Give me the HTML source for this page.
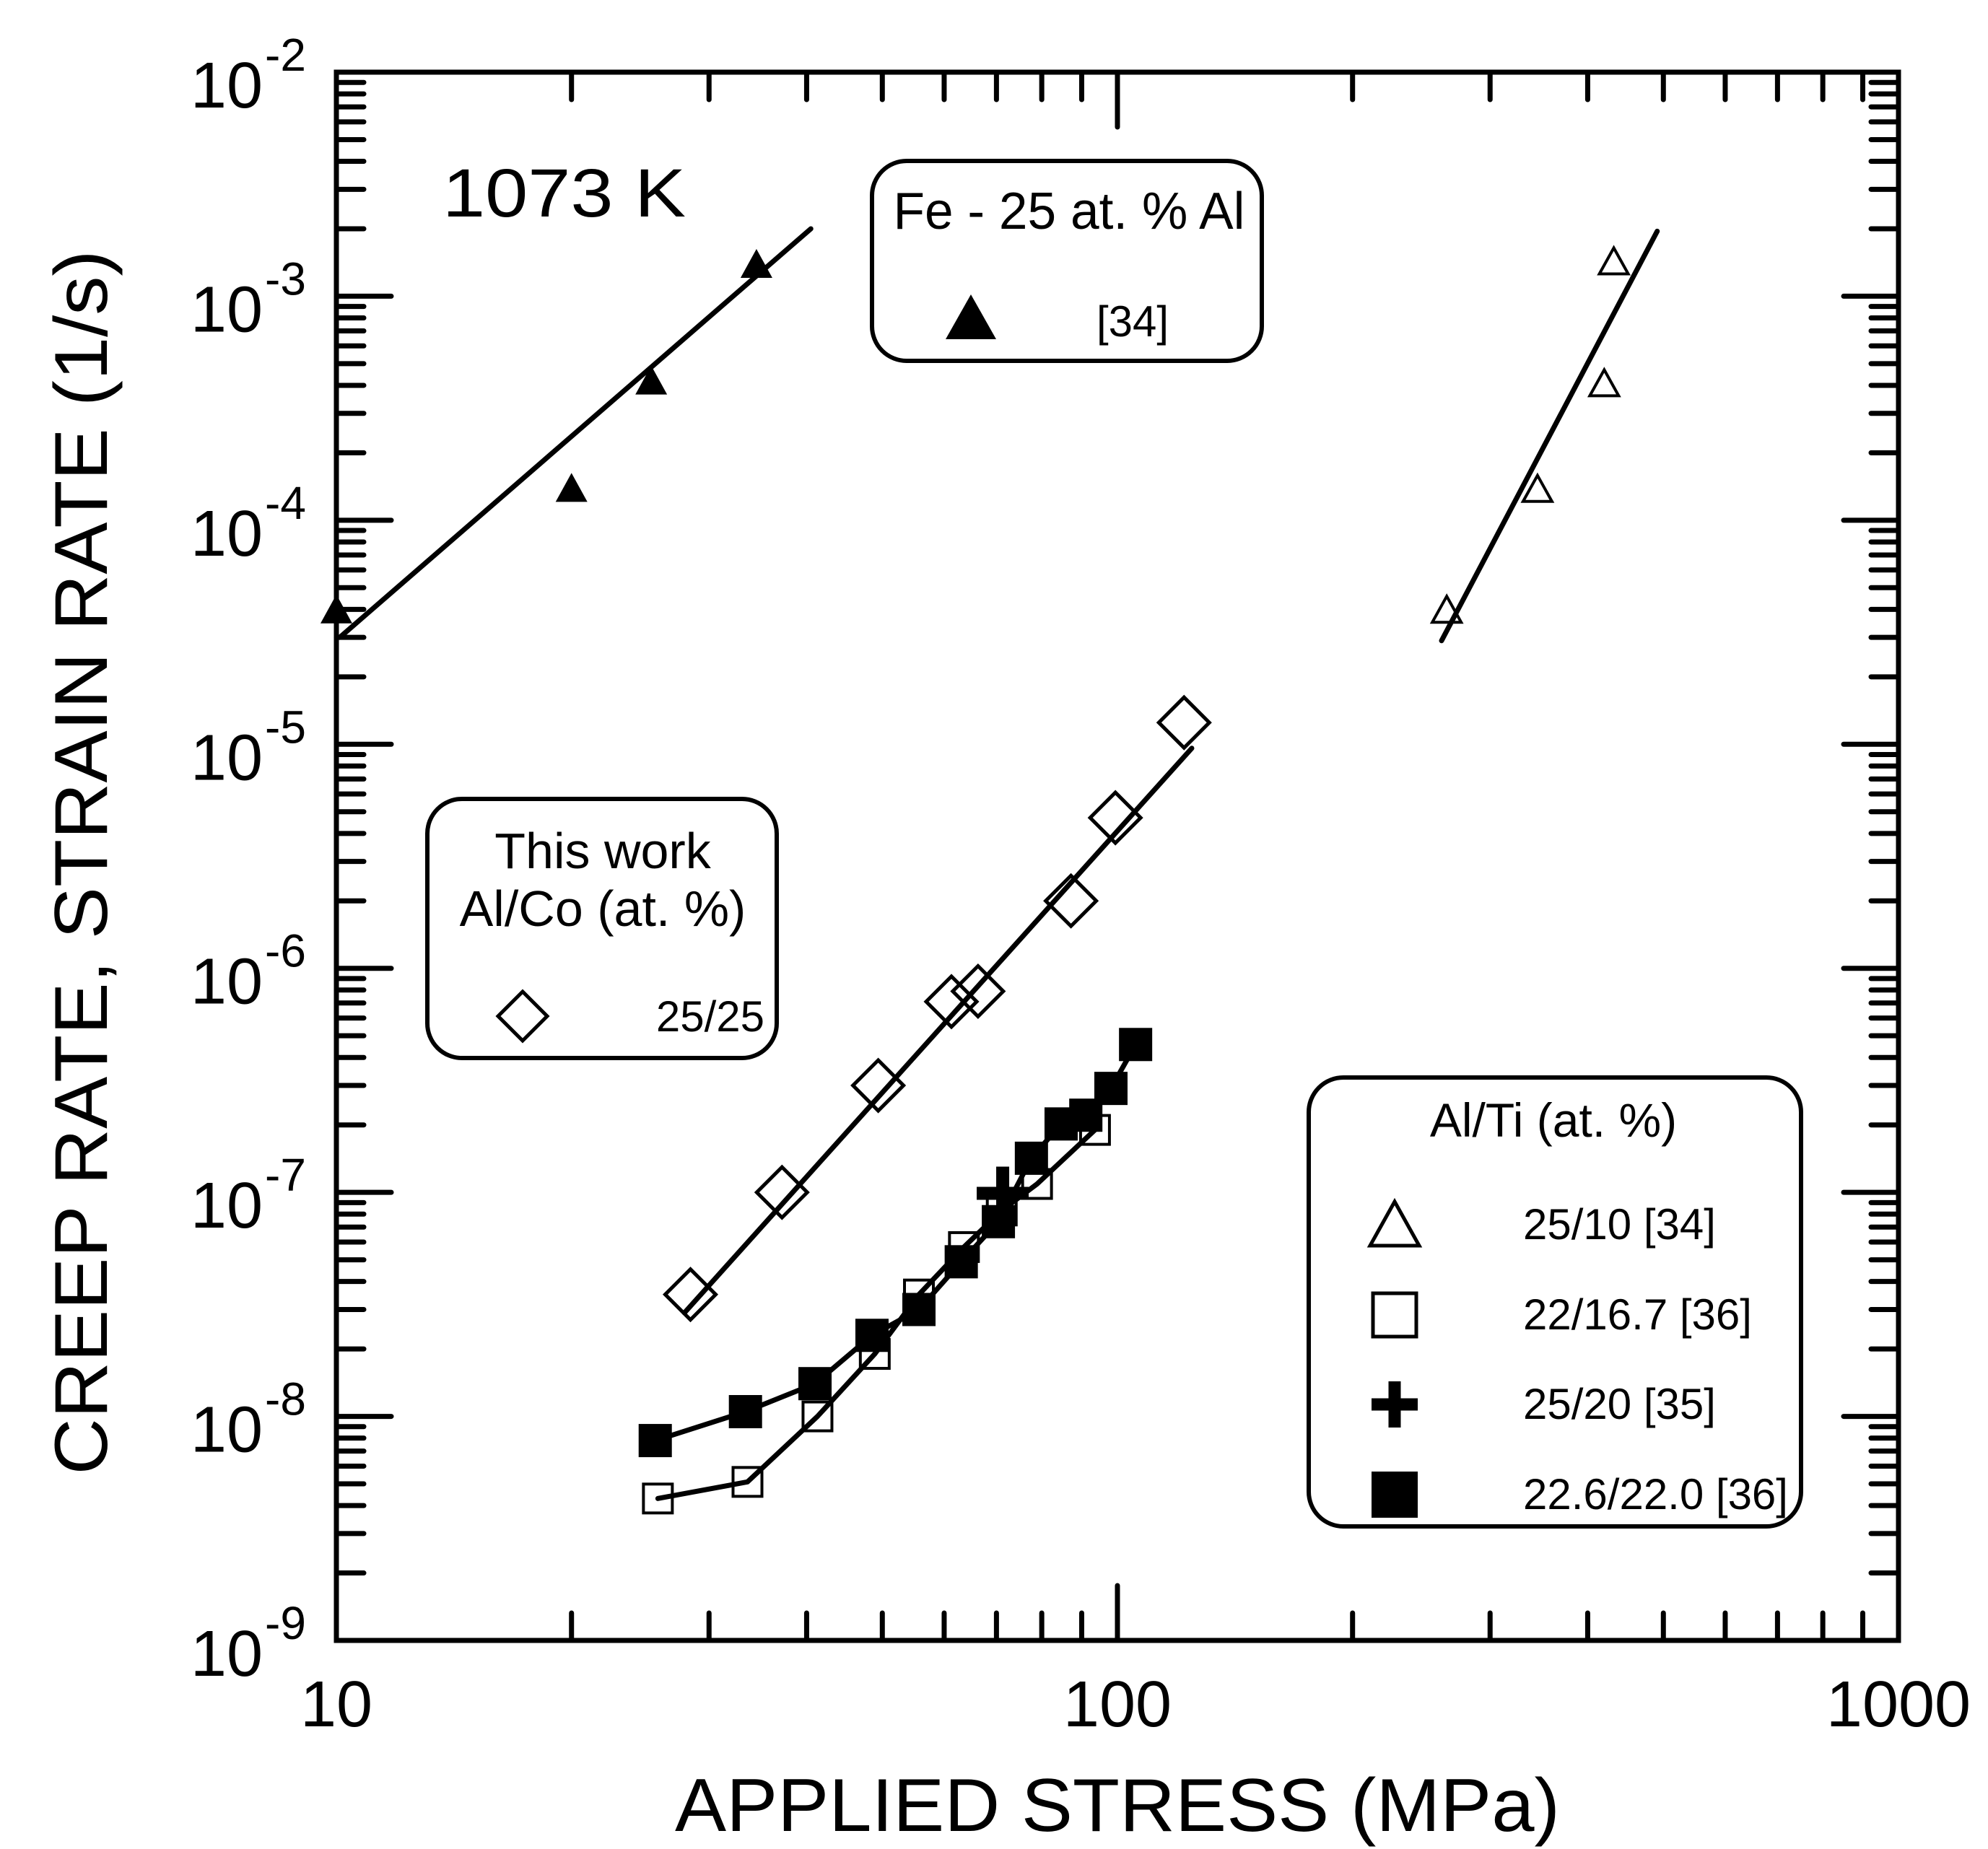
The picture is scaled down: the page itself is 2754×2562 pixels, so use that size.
<!DOCTYPE html>
<html><head><meta charset="utf-8"><style>
html,body{margin:0;padding:0;background:#fff;}
svg{display:block;}
text{font-family:"Liberation Sans",Arial,sans-serif;fill:#000;}
</style></head><body>
<svg id="chart" width="2754" height="2562" viewBox="0 0 2754 2562" xmlns="http://www.w3.org/2000/svg">
<rect x="0" y="0" width="2754" height="2562" fill="#fff"/>
<g id="grid-ticks"></g>
<g id="series"></g>
<rect x="466" y="100" width="2164" height="2173" fill="none" stroke="#000" stroke-width="7"/>
<g id="labels"></g>
<text x="1548" y="2537" font-size="104" text-anchor="middle" textLength="1226" lengthAdjust="spacingAndGlyphs">APPLIED STRESS (MPa)</text>
<text x="0" y="0" font-size="104" text-anchor="middle" textLength="1697" lengthAdjust="spacingAndGlyphs" transform="translate(148,1195) rotate(-90)">CREEP RATE, STRAIN RATE (1/s)</text>
<text x="613" y="300" font-size="95" textLength="337" lengthAdjust="spacingAndGlyphs">1073 K</text>

<g>
<rect x="1208" y="223" width="540" height="277" rx="48" fill="#fff" stroke="#000" stroke-width="6"/>
<text x="1481" y="317" font-size="72" text-anchor="middle" textLength="487" lengthAdjust="spacingAndGlyphs">Fe - 25 at. % Al</text>
<polygon points="1345,408 1380,470 1310,470" fill="#000"/>
<text x="1519" y="466" font-size="60">[34]</text>
</g>

<g>
<rect x="592" y="1107" width="484" height="359" rx="48" fill="#fff" stroke="#000" stroke-width="6"/>
<text x="835" y="1203" font-size="70" text-anchor="middle">This work</text>
<text x="835" y="1283" font-size="70" text-anchor="middle">Al/Co (at. %)</text>
<polygon points="724,1374 758,1408 724,1442 690,1408" fill="none" stroke="#000" stroke-width="5"/>
<text x="1059" y="1429" font-size="60" text-anchor="end">25/25</text>
</g>

<g>
<rect x="1813" y="1493" width="682" height="622" rx="48" fill="#fff" stroke="#000" stroke-width="6"/>
<text x="2152" y="1575" font-size="66" text-anchor="middle">Al/Ti (at. %)</text>
<polygon points="1932,1665 1966,1726 1898,1726" fill="none" stroke="#000" stroke-width="5"/>
<text x="2110" y="1717" font-size="60">25/10 [34]</text>
<rect x="1902" y="1792" width="60" height="60" fill="none" stroke="#000" stroke-width="5"/>
<text x="2110" y="1842" font-size="60">22/16.7 [36]</text>
<path d="M1932,1914 V1978 M1900,1946 H1964" stroke="#000" stroke-width="17"/>
<text x="2110" y="1966" font-size="60">25/20 [35]</text>
<rect x="1900" y="2039" width="64" height="64" fill="#000"/>
<text x="2110" y="2091" font-size="60">22.6/22.0 [36]</text>
</g>
</svg>
<script>
// ---- data ----
const xTickValues = [10, 100, 1000];
const xTickLabels = ["10", "100", "1000"];
const yTickExponents = [-2, -3, -4, -5, -6, -7, -8, -9];
const yTickLabels = ["-2", "-3", "-4", "-5", "-6", "-7", "-8", "-9"];

const feAlStress = [10, 20, 25.3, 34.5];
const feAlRate = [3.9e-5, 1.36e-4, 4.1e-4, 1.36e-3];
const feAlFitStress = [10.1, 40.5];
const feAlFitRate = [3.0e-5, 2.0e-3];

const al25ti10Stress = [264, 345, 420, 432];
const al25ti10Rate = [3.9e-5, 1.35e-4, 4.0e-4, 1.4e-3];
const al25ti10FitStress = [260, 491];
const al25ti10FitRate = [2.9e-5, 1.95e-3];

const alCoStress = [28.4, 37.2, 49.4, 61.3, 66.3, 87.2, 99.4, 121.7];
const alCoRate = [3.5e-8, 1.0e-7, 3.0e-7, 7.1e-7, 7.9e-7, 2.0e-6, 4.7e-6, 1.25e-5];
const alCoFitStress = [27.9, 124.5];
const alCoFitRate = [2.9e-8, 9.6e-6];

const al22ti167Stress = [25.8, 33.6, 41.3, 48.9, 55.7, 63.6, 71.1, 78.9, 93.6];
const al22ti167Rate = [4.3e-9, 5.1e-9, 1.0e-8, 1.9e-8, 3.5e-8, 5.7e-8, 8.3e-8, 1.09e-7, 1.9e-7];

const al25ti20Stress = [71.3];
const al25ti20Rate = [9.9e-8];

const al226ti22Stress = [25.6, 33.4, 41.0, 48.5, 55.7, 63.1, 70.4, 77.6, 84.7, 91.1, 98.1, 105.5];
const al226ti22Rate = [7.8e-9, 1.05e-8, 1.4e-8, 2.3e-8, 3.0e-8, 4.9e-8, 7.4e-8, 1.42e-7, 2.02e-7, 2.21e-7, 2.91e-7, 4.57e-7];

// ---- axes ----
const L = 466, R = 2630, T = 100, B = 2273;
function xs(v){ return L + (Math.log10(v) - 1) / 2 * (R - L); }
function ys(v){ return T + (-2 - Math.log10(v)) / 7 * (B - T); }
const NS = "http://www.w3.org/2000/svg";
function mk(tag, attrs, parent){
  const e = document.createElementNS(NS, tag);
  for (const k in attrs) e.setAttribute(k, attrs[k]);
  parent.appendChild(e);
  return e;
}
const ticks = document.getElementById('grid-ticks');
const labels = document.getElementById('labels');
const series = document.getElementById('series');

for (let d = 1; d <= 3; d++) {
  for (let m = 1; m <= 9; m++) {
    if (d === 3 && m > 1) break;
    const v = m * Math.pow(10, d);
    const x = xs(v);
    const len = m === 1 ? 76 : 38;
    let t = mk('line', {x1:x, y1:B, x2:x, y2:B-len, stroke:'#000','stroke-width':7,'stroke-linecap':'round'}, ticks);
    
    
    t = mk('line', {x1:x, y1:T, x2:x, y2:T+len, stroke:'#000','stroke-width':7,'stroke-linecap':'round'}, ticks);
    
    
  }
}
for (let e = -9; e <= -2; e++) {
  for (let m = 1; m <= 9; m++) {
    if (e === -2 && m > 1) break;
    const y = ys(m * Math.pow(10, e));
    const len = m === 1 ? 76 : 38;
    let t = mk('line', {x1:L, y1:y, x2:L+len, y2:y, stroke:'#000','stroke-width':7,'stroke-linecap':'round'}, ticks);
    
    
    t = mk('line', {x1:R, y1:y, x2:R-len, y2:y, stroke:'#000','stroke-width':7,'stroke-linecap':'round'}, ticks);
    
    
  }
}
xTickValues.forEach((v, i) => {
  const t = mk('text', {x: xs(v), y: 2392, 'font-size': 90, 'text-anchor': 'middle'}, labels);
  t.textContent = xTickLabels[i];
  
  
});
yTickExponents.forEach((e, i) => {
  const y = ys(Math.pow(10, e));
  const b = mk('text', {x: 364, y: y + 49, 'font-size': 90, 'text-anchor': 'end'}, labels);
  b.textContent = "10";
  
  
  const s = mk('text', {x: 367, y: y - 2, 'font-size': 64}, labels);
  s.textContent = yTickLabels[i];
  
  
});

function polyline(xsArr, ysArr, name){
  const pts = xsArr.map((v, i) => xs(v) + ',' + ys(ysArr[i])).join(' ');
  const p = mk('polyline', {points: pts, fill: 'none', stroke: '#000', 'stroke-width': 7, 'stroke-linecap': 'round', 'stroke-linejoin': 'round'}, series);
  
  
}
polyline(feAlFitStress, feAlFitRate, 'fit-line-fe-al');
polyline(al25ti10FitStress, al25ti10FitRate, 'fit-line-al25-ti10');
polyline(alCoFitStress, alCoFitRate, 'fit-line-al-co');
polyline(al22ti167Stress, al22ti167Rate, 'line-al22-ti16.7');
polyline(al226ti22Stress, al226ti22Rate, 'line-al22.6-ti22');

function triangle(cx, cy, w, h, filled, name){
  const pts = [cx + ',' + (cy - h*0.6), (cx + w/2) + ',' + (cy + h*0.4), (cx - w/2) + ',' + (cy + h*0.4)].join(' ');
  const p = mk('polygon', {points: pts, fill: filled ? '#000' : 'none', stroke: '#000', 'stroke-width': filled ? 0 : 4}, series);
  
  
}
feAlStress.forEach((v, i) => triangle(xs(v), ys(feAlRate[i]), 44, 40, true, 'point-fe-al'));
al25ti10Stress.forEach((v, i) => triangle(xs(v), ys(al25ti10Rate[i]), 40, 36, false, 'point-al25-ti10'));
alCoStress.forEach((v, i) => {
  const cx = xs(v), cy = ys(alCoRate[i]), r = 35;
  const p = mk('polygon', {points: `${cx},${cy-r} ${cx+r},${cy} ${cx},${cy+r} ${cx-r},${cy}`, fill: 'none', stroke: '#000', 'stroke-width': 5}, series);
  
  
});
al22ti167Stress.forEach((v, i) => {
  const cx = xs(v), cy = ys(al22ti167Rate[i]);
  const p = mk('rect', {x: cx - 20, y: cy - 20, width: 40, height: 40, fill: 'none', stroke: '#000', 'stroke-width': 4}, series);
  
  
});
al226ti22Stress.forEach((v, i) => {
  const cx = xs(v), cy = ys(al226ti22Rate[i]);
  const p = mk('rect', {x: cx - 23, y: cy - 23, width: 46, height: 46, fill: '#000'}, series);
  
  
});
al25ti20Stress.forEach((v, i) => {
  const cx = xs(v), cy = ys(al25ti20Rate[i]);
  const p = mk('path', {d: `M${cx},${cy-37} V${cy+37} M${cx-36},${cy} H${cx+36}`, stroke: '#000', 'stroke-width': 18}, series);
  
  
});
</script>
</body></html>
